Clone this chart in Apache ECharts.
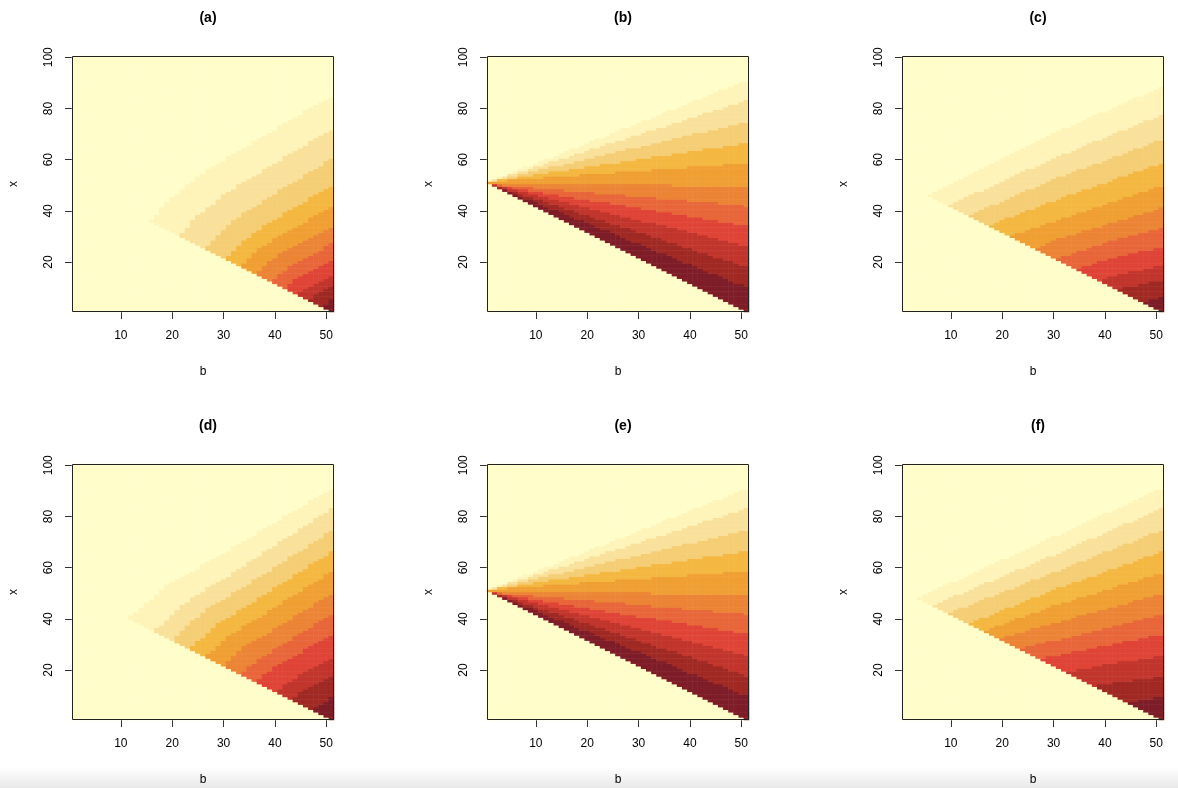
<!DOCTYPE html>
<html>
<head>
<meta charset="utf-8">
<title>Six heatmaps</title>
<script src="https://cdn.jsdelivr.net/npm/echarts@6/dist/echarts.min.js"></script>
<style>
    html, body { margin: 0; padding: 0; background: #fff; }
    #chart { width: 1178px; height: 788px; }
</style>
</head>
<body>
<div id="chart"></div>
<script>
// axis categories and ticks
const bCategories = Array.from({ length: 51 }, (_, i) => i + 1);
const xCategories = Array.from({ length: 100 }, (_, i) => i + 1);
const bTicks = [10, 20, 30, 40, 50];
const xTicks = [20, 40, 60, 80, 100];
const panelTitles = ['(a)', '(b)', '(c)', '(d)', '(e)', '(f)'];

// 12 colour levels, lightest first
const levelColors = ['#FFFDC9', '#FEF4BA', '#F9E19B', '#F5CD74', '#F4B740', '#F09F33',
    '#EC8436', '#E8663A', '#DF4436', '#C1352C', '#A02924', '#7E1D28'];

// cells with b + x below this stay in the empty wedge
const lowerEdgeSum = 52;

// upper edge of levels 2..12 as [b, x] points
const contoursA = [
    [[15.8, 36.2], [19.7, 44.9], [26.4, 55.4], [38.7, 70.4], [51, 85]],
    [[21.5, 30.5], [24.8, 37.9], [30.4, 46.8], [40.7, 59.5], [51, 71.9]],
    [[26.6, 25.4], [29.3, 31.6], [33.9, 39.1], [42.5, 49.9], [51, 60.4]],
    [[30.6, 21.4], [32.8, 26.5], [36.7, 32.6], [43.9, 41.4], [51, 50]],
    [[33.5, 18.5], [35.4, 22.7], [38.75, 27.7], [44.9, 34.7], [51, 41.5]],
    [[36.4, 15.6], [38, 19], [40.8, 23], [45.9, 28.6], [51, 34]],
    [[39.6, 12.4], [40.9, 15.1], [43, 18.3], [47, 22.8], [51, 27.1]],
    [[42, 10], [44.7, 14.3], [47.9, 17.5], [51, 20.5]],
    [[44.6, 7.4], [46.5, 10.4], [51, 14.5]],
    [[46.9, 5.1], [48.1, 7.2], [51, 10.3]],
    [[49.4, 2.6], [51, 5.4]]
];
const contoursB = [
    [[1, 51.5], [51, 91]],
    [[1, 51.5], [51, 83.1]],
    [[1, 51.5], [51, 74.7]],
    [[1, 51.5], [51, 66.4]],
    [[1, 51.5], [51, 58.6]],
    [[1, 50.5], [51, 49.8]],
    [[1, 50.5], [51, 42]],
    [[1, 50.5], [51, 34.2]],
    [[1, 50.5], [51, 26.3]],
    [[1, 50.5], [51, 18.1]],
    [[1, 50.5], [51, 10.3]]
];
const contoursC = [
    [[5.6, 46.4], [30, 70.3], [51, 88.4]],
    [[9.7, 42.3], [30, 60.5], [51, 77.6]],
    [[13.6, 38.4], [30, 52.3], [51, 67.9]],
    [[17.6, 34.4], [30, 43.9], [51, 58.7]],
    [[21.8, 30.2], [30, 36], [51, 49.8]],
    [[26.5, 25.5], [30, 28.6], [51, 41.1]],
    [[30.6, 21.4], [40.8, 27.9], [51, 33.3]],
    [[34.5, 17.5], [42.8, 22.2], [51, 25.8]],
    [[39, 13], [45, 16.2], [51, 18.6]],
    [[42.6, 9.4], [46.8, 11.3], [51, 12.7]],
    [[47.8, 4.2], [51, 6.8]]
];
const contoursD = [
    [[11.6, 40.4], [19.5, 53.9], [27.4, 62.6], [51, 91]],
    [[16.6, 35.4], [23.5, 47.9], [30.4, 56.2], [51, 83.1]],
    [[20, 32], [26.2, 43.1], [32.4, 50.5], [51, 74.3]],
    [[23.5, 28.5], [29, 38.4], [34.5, 45], [51, 66.2]],
    [[26.6, 25.4], [31.5, 34.1], [36.4, 39.9], [51, 58.5]],
    [[30, 22], [34.2, 29.4], [38.4, 34.2], [51, 49.8]],
    [[33.5, 18.5], [37, 24.7], [40.5, 28.7], [51, 41.9]],
    [[36.5, 15.5], [39.4, 20.4], [42.3, 23.6], [51, 34]],
    [[40.3, 11.7], [42.4, 15.3], [44.6, 17.6], [51, 25]],
    [[43.4, 8.6], [44.9, 11], [46.4, 12.4], [51, 17.1]],
    [[47.5, 4.5], [51, 9.3]]
];
const contoursE = [
    [[1, 51.5], [51, 90.9]],
    [[1, 51.5], [51, 83.1]],
    [[1, 51.5], [51, 74.6]],
    [[1, 51.5], [51, 66.4]],
    [[1, 51.5], [51, 58.6]],
    [[1, 50.5], [51, 49.7]],
    [[1, 50.5], [51, 41.9]],
    [[1, 50.5], [51, 34.1]],
    [[1, 50.5], [51, 26]],
    [[1, 50.5], [51, 17.9]],
    [[1, 50.5], [51, 10.1]]
];
const contoursF = [
    [[3.7, 48.3], [30, 72.1], [51, 91]],
    [[6.6, 45.4], [30, 65], [51, 83.1]],
    [[9.7, 42.3], [30, 58.2], [51, 74.6]],
    [[13.7, 38.3], [30, 51.3], [51, 66.2]],
    [[16.6, 35.4], [30, 45.1], [51, 57.9]],
    [[19.6, 32.4], [30, 38.3], [51, 49.8]],
    [[23.5, 28.5], [30, 31.5], [51, 42]],
    [[27.7, 24.3], [30, 25.6], [51, 34]],
    [[32.6, 19.4], [41.8, 22.7], [51, 25.4]],
    [[38.2, 13.8], [44.6, 15.9], [51, 17.5]],
    [[44.5, 7.5], [51, 9.5]]
];
const panelContours = [contoursA, contoursB, contoursC, contoursD, contoursE, contoursF];

// layout
const FONT = 'Liberation Sans';
const colLefts = [72, 487, 902];
const rowTops = [56, 464];
const plotW = 262;
const plotH = 256;

// height of a contour at column b, following its read points
function contourAt(pts, b) {
    if (b < pts[0][0]) return -Infinity;
    for (let i = 1; i < pts.length; i++) {
        if (b <= pts[i][0]) {
            const [b0, x0] = pts[i - 1];
            const [b1, x1] = pts[i];
            return x0 + (x1 - x0) * (b - b0) / (b1 - b0);
        }
    }
    return pts[pts.length - 1][1];
}

function buildCells(contours) {
    const cells = [];
    bCategories.forEach((b, bi) => {
        xCategories.forEach((x, xi) => {
            let level = 1;
            if (b + x >= lowerEdgeSum) {
                contours.forEach(pts => { if (x < contourAt(pts, b)) level++; });
            }
            cells.push([bi, xi, level]);
        });
    });
    return cells;
}

const grids = [], xAxes = [], yAxes = [], series = [], titles = [], boxes = [];

panelContours.forEach((contours, i) => {
    const left = colLefts[i % 3];
    const top = rowTops[Math.floor(i / 3)];

    grids.push({ left: left, top: top, width: plotW, height: plotH });

    xAxes.push({
        type: 'category',
        gridIndex: i,
        data: bCategories,
        name: 'b',
        nameLocation: 'middle',
        nameGap: 54,
        nameTextStyle: { color: '#000', fontSize: 12, fontFamily: FONT },
        axisLine: { show: false },
        axisTick: {
            show: true,
            alignWithLabel: true,
            length: 7,
            interval: (idx) => bTicks.includes(bCategories[idx]),
            lineStyle: { color: '#333' }
        },
        axisLabel: {
            interval: (idx) => bTicks.includes(bCategories[idx]),
            margin: 18,
            color: '#000',
            fontSize: 12,
            fontFamily: FONT
        },
        splitLine: { show: false }
    });

    yAxes.push({
        type: 'category',
        gridIndex: i,
        data: xCategories,
        name: 'x',
        nameLocation: 'middle',
        nameGap: 52,
        nameTextStyle: { color: '#000', fontSize: 12, fontFamily: FONT },
        axisLine: { show: false },
        axisTick: {
            show: true,
            alignWithLabel: true,
            length: 7,
            interval: (idx) => xTicks.includes(xCategories[idx]),
            lineStyle: { color: '#333' }
        },
        axisLabel: {
            interval: (idx) => xTicks.includes(xCategories[idx]),
            rotate: 90,
            margin: 17,
            color: '#000',
            fontSize: 12,
            fontFamily: FONT
        },
        splitLine: { show: false }
    });

    series.push({
        type: 'heatmap',
        xAxisIndex: i,
        yAxisIndex: i,
        data: buildCells(contours),
        progressive: 0,
        itemStyle: { borderWidth: 0 },
        emphasis: { disabled: true }
    });

    titles.push({
        text: panelTitles[i],
        left: left + plotW / 2,
        top: top - 50,
        textAlign: 'center',
        textStyle: { fontSize: 14, fontWeight: 'bold', color: '#000', fontFamily: FONT }
    });

    boxes.push({
        type: 'rect',
        silent: true,
        z: 100,
        shape: { x: left + 0.5, y: top + 0.5, width: plotW - 1, height: plotH - 1 },
        style: { fill: 'none', stroke: '#222', lineWidth: 1 }
    });
});

// faint grey band along the bottom edge of the screenshot
boxes.push({
    type: 'rect',
    silent: true,
    shape: { x: 0, y: 766, width: 1178, height: 22 },
    style: {
        fill: new echarts.graphic.LinearGradient(0, 0, 0, 1, [
            { offset: 0, color: 'rgba(236,236,236,0)' },
            { offset: 1, color: 'rgba(232,232,232,1)' }
        ])
    }
});

const chart = echarts.init(document.getElementById('chart'), null, { renderer: 'canvas' });

chart.setOption({
    backgroundColor: '#fff',
    animation: false,
    title: titles,
    grid: grids,
    xAxis: xAxes,
    yAxis: yAxes,
    visualMap: {
        type: 'piecewise',
        show: false,
        dimension: 2,
        seriesIndex: series.map((_, i) => i),
        pieces: levelColors.map((color, k) => ({ value: k + 1, color: color }))
    },
    series: series,
    graphic: boxes
});

window.addEventListener('resize', () => chart.resize());
</script>
</body>
</html>
